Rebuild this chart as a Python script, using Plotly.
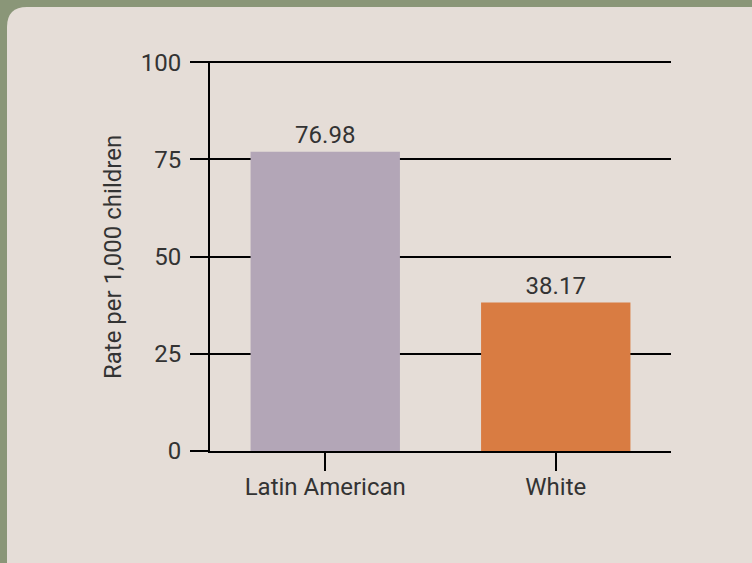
import plotly.graph_objects as go

categories = ["Latin American", "White"]
values = [76.98, 38.17]
bar_colors = ["#b3a6b7", "#d97c42"]
value_labels = ["76.98", "38.17"]
y_ticks = [0, 25, 50, 75, 100]

FONT = "Roboto"
TXT = "#333333"
FS = 24

W, H = 752, 563
L, R, T, B = 210, 81, 61, 112
pw, ph = W - L - R, H - T - B

def px_x(p):
    return (p - L) / pw

def px_y(p):
    return (H - B - p) / ph

fig = go.Figure()
fig.add_trace(go.Bar(
    x=categories, y=values, marker=dict(color=bar_colors, line=dict(width=0)),
    text=value_labels, textposition="outside", cliponaxis=False,
    textfont=dict(family=FONT, size=FS, color=TXT),
    width=0.648, hoverinfo="skip",
))

# rounded panel
x0, y0 = px_x(7), px_y(7)
x1, y1 = px_x(W + 20), px_y(H + 20)
dx, dy = 20 / pw, 20 / ph
path = (f"M {x0},{y1} L {x0},{y0 - dy} Q {x0},{y0} {x0 + dx},{y0} "
        f"L {x1},{y0} L {x1},{y1} Z")
fig.add_shape(type="path", xref="paper", yref="paper", path=path,
              fillcolor="#e5ddd7", line=dict(width=0), layer="below")

fig.add_annotation(text="Rate per 1,000 children", xref="paper", yref="paper",
                   x=px_x(113), y=px_y(257), xanchor="center", yanchor="middle",
                   textangle=-90, showarrow=False,
                   font=dict(family=FONT, size=FS, color=TXT))

fig.update_layout(
    width=W, height=H,
    margin=dict(l=L, r=R, t=T, b=B, pad=0),
    paper_bgcolor="#8a9678", plot_bgcolor="rgba(0,0,0,0)",
    showlegend=False,
    font=dict(family=FONT, size=FS, color=TXT),
    xaxis=dict(
        showgrid=False, showline=True, linecolor="#000000", linewidth=2,
        zeroline=False,
        ticks="outside", ticklen=18, tickwidth=2, tickcolor="#000000",
        ticklabelstandoff=-5,
        tickfont=dict(family=FONT, size=FS, color=TXT),
        range=[-0.5, 1.5],
    ),
    yaxis=dict(
        range=[0, 100.3], tickvals=y_ticks,
        showgrid=True, gridcolor="#000000", gridwidth=2,
        zeroline=False, showline=True, linecolor="#000000", linewidth=2,
        ticks="outside", ticklen=18, tickwidth=2, tickcolor="#000000",
        ticklabelstandoff=4,
        tickfont=dict(family=FONT, size=FS, color=TXT),
    ),
)

fig.write_html("out.html")
